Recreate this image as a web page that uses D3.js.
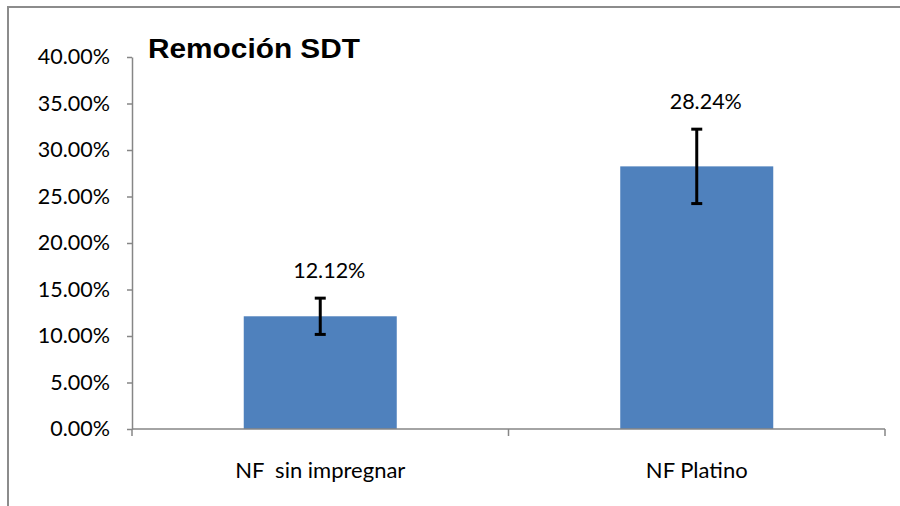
<!DOCTYPE html>
<html>
<head>
<meta charset="utf-8">
<script src="https://cdn.jsdelivr.net/npm/d3@7"></script>
<style>
  body { margin: 0; background: #fff; }
  svg { display: block; }
</style>
</head>
<body>
<script>
const categories = ['NF  sin impregnar', 'NF Platino'];
const values = [0.1212, 0.2824];
const errors = [0.0195, 0.0400];
const yTicks = [0, 0.05, 0.10, 0.15, 0.20, 0.25, 0.30, 0.35, 0.40];
const chartTitle = 'Remoción SDT';

const w = 900, h = 506;
const plotLeft = 132, plotRight = 885, plotTop = 57, plotBottom = 429;
const font = 'Lato, "Open Sans", sans-serif';

const svg = d3.select('body').append('svg')
  .attr('width', w)
  .attr('height', h);

// chart frame (only top and left edges show)
svg.append('rect')
  .attr('x', 8).attr('y', 7)
  .attr('width', w + 20).attr('height', h + 20)
  .attr('fill', 'none')
  .attr('stroke', '#8c8c8c')
  .attr('stroke-width', 2);

const y = d3.scaleLinear().domain([0, 0.40]).range([plotBottom, plotTop]);
const x = d3.scaleBand()
  .domain(categories)
  .range([plotLeft, plotRight])
  .paddingInner(0.5936)
  .paddingOuter(0.5936 / 2);

const fmt = d3.format('.2%');

// bars
svg.selectAll('.bar')
  .data(values)
  .enter().append('rect')
  .attr('class', 'bar')
  .attr('x', (d, i) => x(categories[i]))
  .attr('y', d => y(d))
  .attr('width', x.bandwidth())
  .attr('height', d => y(0) - y(d))
  .attr('fill', '#4f81bd');

// y axis
const yAxis = d3.axisLeft(y)
  .tickValues(yTicks)
  .tickFormat(fmt)
  .tickSize(5)
  .tickSizeOuter(0)
  .tickPadding(17);

const gy = svg.append('g')
  .attr('transform', 'translate(' + plotLeft + ',0)')
  .call(yAxis);
gy.select('.domain').attr('stroke', '#868686').attr('stroke-width', 1.5);
gy.selectAll('.tick line').attr('stroke', '#868686').attr('stroke-width', 1.5);
gy.selectAll('.tick text')
  .style('font-family', font)
  .style('font-size', '21.5px')
  .attr('fill', '#000');

// x axis (ticks at category boundaries)
const step = x.step();
const bounds = categories.map(c => x(c) - step * x.paddingInner() / 2).concat([plotRight]);
const gx = svg.append('g');
gx.append('line')
  .attr('x1', plotLeft).attr('x2', plotRight)
  .attr('y1', y(0)).attr('y2', y(0))
  .attr('stroke', '#868686').attr('stroke-width', 1.5);
gx.selectAll('.xt')
  .data(bounds)
  .enter().append('line')
  .attr('x1', d => d).attr('x2', d => d)
  .attr('y1', y(0)).attr('y2', y(0) + 7)
  .attr('stroke', '#868686').attr('stroke-width', 1.5);
gx.selectAll('.xl')
  .data(categories)
  .enter().append('text')
  .attr('x', d => x(d) + x.bandwidth() / 2)
  .attr('y', 478)
  .attr('text-anchor', 'middle')
  .style('white-space', 'pre')
  .style('font-family', font)
  .style('font-size', '22px')
  .text(d => d);

// error bars
const eb = svg.selectAll('.err')
  .data(values)
  .enter().append('g')
  .attr('stroke', '#000')
  .attr('stroke-width', 3);
const cx = (i) => x(categories[i]) + x.bandwidth() / 2;
eb.append('line')
  .attr('x1', (d, i) => cx(i)).attr('x2', (d, i) => cx(i))
  .attr('y1', (d, i) => y(d + errors[i])).attr('y2', (d, i) => y(d - errors[i]));
eb.append('line')
  .attr('x1', (d, i) => cx(i) - 5.5).attr('x2', (d, i) => cx(i) + 5.5)
  .attr('y1', (d, i) => y(d + errors[i])).attr('y2', (d, i) => y(d + errors[i]));
eb.append('line')
  .attr('x1', (d, i) => cx(i) - 5.5).attr('x2', (d, i) => cx(i) + 5.5)
  .attr('y1', (d, i) => y(d - errors[i])).attr('y2', (d, i) => y(d - errors[i]));

// value labels
svg.selectAll('.val')
  .data(values)
  .enter().append('text')
  .attr('x', (d, i) => cx(i) + 9)
  .attr('y', (d, i) => y(d + errors[i]) - 20)
  .attr('text-anchor', 'middle')
  .style('font-family', font)
  .style('font-size', '21.5px')
  .text(d => fmt(d));

// title
svg.append('text')
  .attr('x', 148)
  .attr('y', 58)
  .attr('textLength', 212)
  .attr('lengthAdjust', 'spacingAndGlyphs')
  .style('font-family', '"Liberation Sans", Arial, sans-serif')
  .style('font-weight', 'bold')
  .style('font-size', '27px')
  .text(chartTitle);
</script>
</body>
</html>
